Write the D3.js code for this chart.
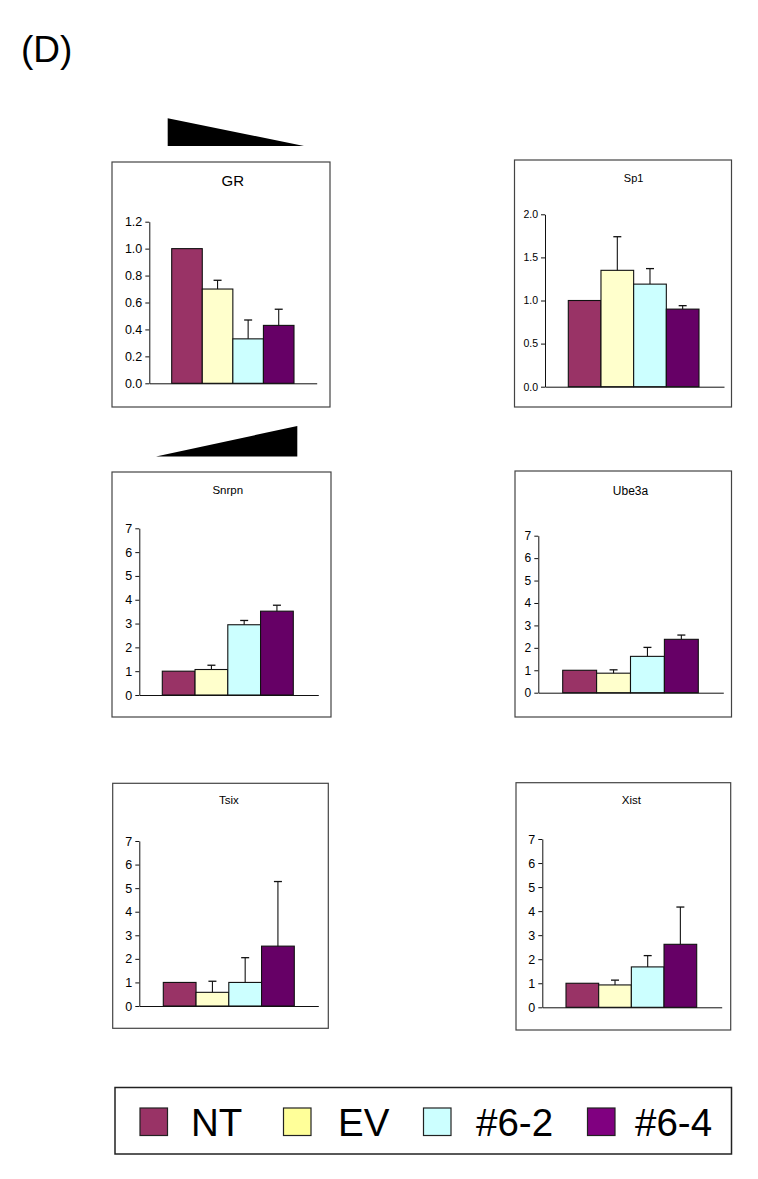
<!DOCTYPE html>
<html>
<head>
<meta charset="utf-8">
<script src="https://cdn.jsdelivr.net/npm/d3@7"></script>
<style>
  html, body { margin: 0; padding: 0; background: #fff; }
  svg { display: block; font-family: "Liberation Sans", Arial, sans-serif; }
</style>
</head>
<body>
<svg id="chart" width="758" height="1179"></svg>
<script>
// ---------------- DATA ----------------
const categories = ["NT", "EV", "#6-2", "#6-4"];
const genes = ["GR", "Sp1", "Snrpn", "Ube3a", "Tsix", "Xist"];

const grMeans    = [1.00, 0.70, 0.33, 0.43];
const grErrors   = [0, 0.065, 0.14, 0.12];
const sp1Means   = [1.00, 1.35, 1.19, 0.90];
const sp1Errors  = [0, 0.39, 0.18, 0.04];
const snrpnMeans = [1.00, 1.07, 2.95, 3.52];
const snrpnErrors= [0, 0.18, 0.18, 0.25];
const ube3aMeans = [1.00, 0.87, 1.62, 2.38];
const ube3aErrors= [0, 0.15, 0.40, 0.19];
const tsixMeans  = [1.00, 0.58, 1.00, 2.54];
const tsixErrors = [0, 0.47, 1.05, 2.74];
const xistMeans  = [1.00, 0.93, 1.68, 2.62];
const xistErrors = [0, 0.20, 0.47, 1.55];

const grTicks   = [0, 0.2, 0.4, 0.6, 0.8, 1.0, 1.2];
const sp1Ticks  = [0, 0.5, 1.0, 1.5, 2.0];
const foldTicks = [0, 1, 2, 3, 4, 5, 6, 7];

const panelLabel = "(D)";

// ---------------- STYLE ----------------
const barColors    = ["#993366", "#FFFFCC", "#CCFFFF", "#660066"];
const legendColors = ["#993366", "#FFFF99", "#CCFFFF", "#800080"];

// ---------------- LAYOUT ----------------
const panels = [
  { name: genes[0], means: grMeans, errs: grErrors, ticks: grTicks, fmt: d3.format(".1f"), max: 1.2,
    box: [112, 162, 330, 407], axisX: 149.3, y0: 383.3, yTop: 221.7, bars: [171.7, 294], axisEnd: 316.7,
    titleY: 185.5, titleSize: 15, tickSize: 12.5 },
  { name: genes[1], means: sp1Means, errs: sp1Errors, ticks: sp1Ticks, fmt: d3.format(".1f"), max: 2.0,
    box: [514.5, 160, 731.5, 407], axisX: 545, y0: 386.7, yTop: 214.3, bars: [568.3, 699], axisEnd: 724,
    titleY: 181.5, titleSize: 11, tickSize: 10.5 },
  { name: genes[2], means: snrpnMeans, errs: snrpnErrors, ticks: foldTicks, fmt: d3.format("d"), max: 7,
    box: [112, 472, 331, 717], axisX: 139.3, y0: 695, yTop: 528.3, bars: [162.3, 293.3], axisEnd: 318.3,
    titleY: 494, titleSize: 11.5, tickSize: 12.5 },
  { name: genes[3], means: ube3aMeans, errs: ube3aErrors, ticks: foldTicks, fmt: d3.format("d"), max: 7,
    box: [515, 471, 731.5, 717], axisX: 538.3, y0: 692.7, yTop: 535.7, bars: [562.7, 698.3], axisEnd: 723.3,
    titleY: 495, titleSize: 12, tickSize: 12 },
  { name: genes[4], means: tsixMeans, errs: tsixErrors, ticks: foldTicks, fmt: d3.format("d"), max: 7,
    box: [112.7, 783.3, 328.3, 1028.3], axisX: 139.3, y0: 1006, yTop: 841, bars: [163.3, 294.3], axisEnd: 318.3,
    titleY: 804.3, titleSize: 11.5, tickSize: 12.5 },
  { name: genes[5], means: xistMeans, errs: xistErrors, ticks: foldTicks, fmt: d3.format("d"), max: 7,
    box: [516, 782.7, 730.7, 1030], axisX: 542.3, y0: 1007.3, yTop: 839, bars: [566, 696.7], axisEnd: 721.7,
    titleY: 804, titleSize: 11.5, tickSize: 12.5 }
];

const svg = d3.select("#chart");

// Panel label
svg.append("text")
  .attr("x", 21).attr("y", 62)
  .attr("font-size", 37)
  .attr("fill", "#000")
  .text(panelLabel);

// Dosage wedges
const wedges = [
  [[167.7, 118.3], [167.7, 146], [304, 146]],
  [[156, 456.5], [297.3, 426], [297.3, 456.5]]
];
svg.selectAll("path.wedge").data(wedges).enter().append("path")
  .attr("class", "wedge")
  .attr("d", d => d3.line()(d) + "Z")
  .attr("fill", "#000");

panels.forEach(p => {
  const g = svg.append("g");
  const [bx0, by0, bx1, by1] = p.box;
  g.append("rect")
    .attr("x", bx0).attr("y", by0)
    .attr("width", bx1 - bx0).attr("height", by1 - by0)
    .attr("fill", "#fff").attr("stroke", "#444").attr("stroke-width", 1.2);

  g.append("text")
    .attr("x", (p.bars[0] + p.bars[1]) / 2).attr("y", p.titleY)
    .attr("text-anchor", "middle")
    .attr("font-size", p.titleSize)
    .attr("fill", "#000")
    .text(p.name);

  const y = d3.scaleLinear().domain([0, p.max]).range([p.y0, p.yTop]);
  const x = d3.scaleBand().domain(categories).range(p.bars).padding(0);

  // Bars
  g.selectAll("rect.bar").data(p.means).enter().append("rect")
    .attr("class", "bar")
    .attr("x", (d, i) => x(categories[i]))
    .attr("y", d => y(d))
    .attr("width", x.bandwidth())
    .attr("height", d => y(0) - y(d))
    .attr("fill", (d, i) => barColors[i])
    .attr("stroke", "#111").attr("stroke-width", 1.1);

  // Error bars
  const eb = p.means.map((m, i) => ({ m, e: p.errs[i], c: categories[i] })).filter(d => d.e > 0);
  const cx = d => x(d.c) + x.bandwidth() / 2;
  g.selectAll("line.err").data(eb).enter().append("line")
    .attr("x1", cx).attr("x2", cx)
    .attr("y1", d => y(d.m)).attr("y2", d => y(d.m + d.e))
    .attr("stroke", "#111").attr("stroke-width", 1.1);
  g.selectAll("line.cap").data(eb).enter().append("line")
    .attr("x1", d => cx(d) - 4).attr("x2", d => cx(d) + 4)
    .attr("y1", d => y(d.m + d.e)).attr("y2", d => y(d.m + d.e))
    .attr("stroke", "#111").attr("stroke-width", 1.3);

  // X axis line
  const xLine = d3.scaleLinear().domain([0, 1]).range([p.axisX, p.axisEnd]);
  g.append("g")
    .attr("transform", `translate(0,${p.y0})`)
    .call(d3.axisBottom(xLine).tickValues([]).tickSizeOuter(0))
    .call(a => a.select(".domain").attr("stroke", "#111"));

  // Y axis
  g.append("g")
    .attr("transform", `translate(${p.axisX},0)`)
    .call(d3.axisLeft(y).tickValues(p.ticks).tickFormat(p.fmt).tickSize(4).tickSizeOuter(0).tickPadding(3))
    .call(a => {
      a.attr("font-size", p.tickSize).attr("font-family", "'Liberation Sans', Arial, sans-serif");
      a.select(".domain").attr("stroke", "#111");
      a.selectAll(".tick line").attr("stroke", "#111");
      a.selectAll(".tick text")
        .attr("font-size", p.tickSize).attr("fill", "#000");
    });
});

// Legend
const lg = svg.append("g");
lg.append("rect")
  .attr("x", 115).attr("y", 1087.5).attr("width", 616.5).attr("height", 66.5)
  .attr("fill", "#fff").attr("stroke", "#222").attr("stroke-width", 1.5);
const swatchX = [140, 283.5, 423.5, 587.5];
const textX = [191, 338, 476, 635];
const items = lg.selectAll("g.item").data(categories).enter().append("g").attr("class", "item");
items.append("rect")
  .attr("x", (d, i) => swatchX[i]).attr("y", 1108)
  .attr("width", 27.5).attr("height", 27.5)
  .attr("fill", (d, i) => legendColors[i])
  .attr("stroke", "#222").attr("stroke-width", 1.2);
items.append("text")
  .attr("x", (d, i) => textX[i]).attr("y", 1136)
  .attr("font-size", 38.5).attr("fill", "#000")
  .text(d => d);
</script>
</body>
</html>
